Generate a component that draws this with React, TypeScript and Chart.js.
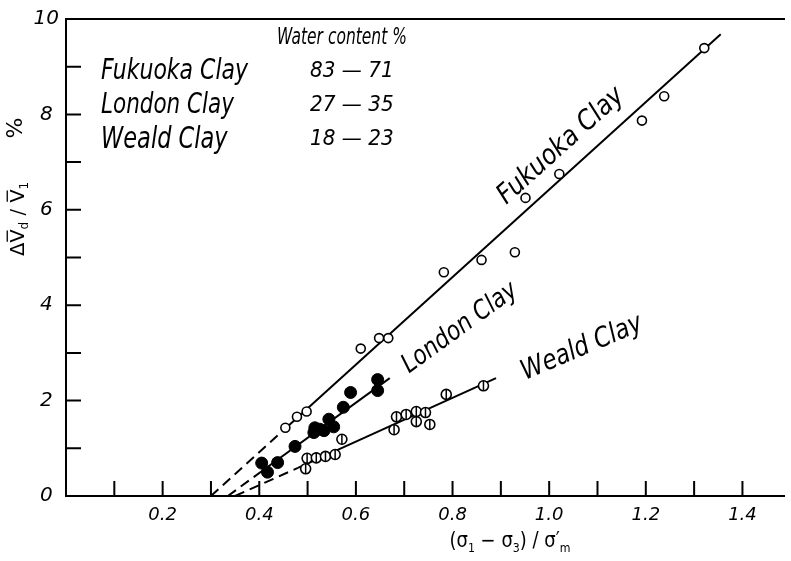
import React, { useEffect, useRef } from 'react';
import { Chart, registerables } from 'chart.js';

Chart.register(...registerables);

// Measured points: (sigma1 - sigma3)/sigma'm  vs  dVd/V1 %
const fukuokaX = [0.454, 0.478, 0.498, 0.610, 0.648, 0.667, 0.782, 0.860, 0.929, 0.951, 1.021, 1.192, 1.238, 1.321];
const fukuokaY = [1.43, 1.66, 1.77, 3.09, 3.31, 3.31, 4.69, 4.95, 5.11, 6.25, 6.75, 7.87, 8.38, 9.39];

const londonX = [0.405, 0.417, 0.438, 0.474, 0.513, 0.515, 0.525, 0.534, 0.544, 0.554, 0.574, 0.589, 0.645, 0.645];
const londonY = [0.69, 0.50, 0.70, 1.04, 1.33, 1.43, 1.40, 1.37, 1.61, 1.45, 1.86, 2.17, 2.44, 2.21];

const wealdX = [0.496, 0.499, 0.518, 0.537, 0.557, 0.571, 0.679, 0.684, 0.704, 0.725, 0.744, 0.725, 0.753, 0.787, 0.864];
const wealdY = [0.57, 0.79, 0.80, 0.83, 0.87, 1.19, 1.39, 1.66, 1.71, 1.77, 1.75, 1.56, 1.50, 2.13, 2.31];

// Fitted lines: dashed extrapolation + solid part
const fukuokaDashX = [0.30, 0.45];
const fukuokaDashY = [0, 1.38];
const fukuokaLineX = [0.45, 1.355];
const fukuokaLineY = [1.38, 9.68];

const londonDashX = [0.335, 0.405];
const londonDashY = [0, 0.52];
const londonLineX = [0.405, 0.67];
const londonLineY = [0.52, 2.47];

const wealdDashX = [0.35, 0.48];
const wealdDashY = [0, 0.59];
const wealdLineX = [0.48, 0.89];
const wealdLineY = [0.59, 2.47];

const xTickLabels = ['0.2', '0.4', '0.6', '0.8', '1.0', '1.2', '1.4'];
const yTickLabels = ['0', '2', '4', '6', '8', '10'];

const legendNames = ['Fukuoka Clay', 'London Clay', 'Weald Clay'];
const legendWater = ['83 — 71', '27 — 35', '18 — 23'];

const FONT = '"DejaVu Sans"';

const pts = (xs: number[], ys: number[]) => xs.map((x, i) => ({ x, y: ys[i] }));

function txt(
  ctx: CanvasRenderingContext2D,
  s: string,
  x: number,
  y: number,
  size: number,
  opts: { angle?: number; sy?: number; align?: CanvasTextAlign; style?: string } = {}
) {
  ctx.save();
  ctx.translate(x, y);
  if (opts.angle) ctx.rotate((opts.angle * Math.PI) / 180);
  ctx.scale(1, opts.sy || 1);
  ctx.font = `${opts.style ?? 'italic'} ${size}px ${FONT}`;
  ctx.textAlign = opts.align || 'left';
  ctx.textBaseline = 'middle';
  ctx.fillStyle = '#000';
  ctx.fillText(s, 0, 0);
  ctx.restore();
}

type Seg = { t: string; sub?: boolean; over?: boolean };

function segs(ctx: CanvasRenderingContext2D, list: Seg[], cx: number, cy: number, size: number, angle: number, sy = 1) {
  ctx.save();
  ctx.translate(cx, cy);
  ctx.rotate((angle * Math.PI) / 180);
  ctx.scale(1, sy);
  const mainFont = `${size}px ${FONT}`;
  const subFont = `${Math.round(size * 0.62)}px ${FONT}`;
  let total = 0;
  const widths = list.map((s) => {
    ctx.font = s.sub ? subFont : mainFont;
    const w = ctx.measureText(s.t).width;
    total += w;
    return w;
  });
  let x = -total / 2;
  ctx.textBaseline = 'alphabetic';
  ctx.textAlign = 'left';
  ctx.fillStyle = '#000';
  ctx.strokeStyle = '#000';
  list.forEach((s, i) => {
    ctx.font = s.sub ? subFont : mainFont;
    const yOff = s.sub ? size * 0.22 : 0;
    ctx.fillText(s.t, x, size * 0.36 + yOff);
    if (s.over) {
      ctx.beginPath();
      ctx.lineWidth = 1.3;
      ctx.moveTo(x + 1, -size * 0.5);
      ctx.lineTo(x + widths[i] - 1, -size * 0.5);
      ctx.stroke();
    }
    x += widths[i];
  });
  ctx.restore();
}

const decorPlugin = {
  id: 'decor',
  beforeDatasetsDraw(chart: any) {
    const { ctx, chartArea, scales } = chart;
    const x = scales.x;
    const y = scales.y;
    ctx.save();
    ctx.strokeStyle = '#000';
    ctx.lineWidth = 2;
    ctx.beginPath();
    x.ticks.forEach((t: any) => {
      if (t.value <= 0) return;
      const px = x.getPixelForValue(t.value);
      ctx.moveTo(px, chartArea.bottom);
      ctx.lineTo(px, chartArea.bottom - 15);
    });
    y.ticks.forEach((t: any) => {
      if (t.value <= 0 || t.value >= 10) return;
      const py = y.getPixelForValue(t.value);
      ctx.moveTo(chartArea.left, py);
      ctx.lineTo(chartArea.left + 15, py);
    });
    ctx.stroke();
    ctx.restore();
  },
  afterDraw(chart: any) {
    const { ctx } = chart;
    // legend block
    txt(ctx, 'Water content %', 277, 38, 15.5, { sy: 1.45 });
    const rowsY = [72, 106, 140];
    const nameSizes = [22, 21.5, 22.5];
    legendNames.forEach((n, i) => txt(ctx, n, 101, rowsY[i], nameSizes[i], { sy: 1.3 }));
    legendWater.forEach((n, i) => txt(ctx, n, 310, rowsY[i], 20, { sy: 1.05 }));

    // line labels
    txt(ctx, 'Fukuoka Clay', 561, 146, 24, { angle: -42, sy: 1.15, align: 'center' });
    txt(ctx, 'London Clay', 460, 328, 22, { angle: -36, sy: 1.2, align: 'center' });
    txt(ctx, 'Weald Clay', 582, 348, 23, { angle: -23, sy: 1.2, align: 'center' });

    // x title
    segs(
      ctx,
      [
        { t: '(σ' },
        { t: '1', sub: true },
        { t: ' − σ' },
        { t: '3', sub: true },
        { t: ') / σ′' },
        { t: 'm', sub: true },
      ],
      510,
      540,
      18,
      0,
      1.15
    );
    // y title
    segs(
      ctx,
      [
        { t: 'Δ' },
        { t: 'V', over: true },
        { t: 'd', sub: true },
        { t: ' / ' },
        { t: 'V', over: true },
        { t: '1', sub: true },
      ],
      17,
      219,
      19.5,
      -90
    );
    txt(ctx, '%', 16, 128, 22, { angle: -90, align: 'center', style: 'normal' });
  },
};

export default function App() {
  const ref = useRef<HTMLCanvasElement | null>(null);

  useEffect(() => {
    document.body.style.margin = '0';
    const canvas = ref.current;
    if (!canvas) return;

    const lineDs = (xs: number[], ys: number[], dashed: boolean) => ({
      data: pts(xs, ys),
      showLine: true,
      borderColor: '#000',
      borderWidth: 2,
      borderDash: dashed ? [10, 6] : [],
      pointRadius: 0,
      fill: false,
    });

    const chart = new Chart(canvas, {
      type: 'scatter',
      data: {
        datasets: [
          {
            label: 'Weald bar',
            data: pts(wealdX, wealdY),
            pointStyle: 'line',
            pointRotation: 90,
            pointRadius: 5,
            borderColor: '#000',
            borderWidth: 1.5,
          },
          {
            label: 'Weald Clay',
            data: pts(wealdX, wealdY),
            pointStyle: 'circle',
            pointRadius: 5,
            backgroundColor: '#fff',
            borderColor: '#000',
            borderWidth: 1.6,
          },
          {
            label: 'London Clay',
            data: pts(londonX, londonY),
            pointStyle: 'circle',
            pointRadius: 6,
            backgroundColor: '#000',
            borderColor: '#000',
            borderWidth: 1,
          },
          {
            label: 'Fukuoka Clay',
            data: pts(fukuokaX, fukuokaY),
            pointStyle: 'circle',
            pointRadius: 4.5,
            backgroundColor: '#fff',
            borderColor: '#000',
            borderWidth: 1.6,
          },
          lineDs(fukuokaDashX, fukuokaDashY, true),
          lineDs(fukuokaLineX, fukuokaLineY, false),
          lineDs(londonDashX, londonDashY, true),
          lineDs(londonLineX, londonLineY, false),
          lineDs(wealdDashX, wealdDashY, true),
          lineDs(wealdLineX, wealdLineY, false),
        ] as any,
      },
      options: {
        animation: false,
        responsive: false,
        devicePixelRatio: 1,
        layout: { padding: { top: 13, right: 1, left: 0, bottom: 0 } },
        plugins: {
          legend: { display: false },
          tooltip: { enabled: false },
        },
        scales: {
          x: {
            type: 'linear',
            position: 'bottom',
            min: 0,
            max: 1.486,
            afterFit: (s: any) => {
              s.height = 65;
            },
            grid: { display: false, drawTicks: false },
            border: { display: true, color: '#000', width: 2 },
            ticks: {
              stepSize: 0.1,
              includeBounds: false,
              autoSkip: false,
              maxRotation: 0,
              padding: 9,
              color: '#000',
              font: { family: 'DejaVu Sans', size: 18, style: 'italic' },
              callback: (v: any) => {
                const s = Number(v).toFixed(1);
                return xTickLabels.includes(s) ? s : '';
              },
            },
          },
          x2: {
            type: 'linear',
            position: 'top',
            min: 0,
            max: 1,
            afterFit: (s: any) => {
              s.height = 0;
            },
            grid: { display: false, drawTicks: false },
            border: { display: true, color: '#000', width: 2 },
            ticks: { display: false },
          },
          y: {
            type: 'linear',
            min: 0,
            max: 10,
            afterFit: (s: any) => {
              s.width = 66;
            },
            grid: { display: false, drawTicks: false },
            border: { display: true, color: '#000', width: 2 },
            ticks: {
              stepSize: 1,
              autoSkip: false,
              padding: 7,
              crossAlign: 'center',
              color: '#000',
              font: { family: 'DejaVu Sans', size: 20, style: 'italic' },
              callback: (v: any) => {
                const s = String(Math.round(Number(v)));
                return yTickLabels.includes(s) ? s : '';
              },
            },
          },
        },
      } as any,
      plugins: [decorPlugin],
    });

    return () => chart.destroy();
  }, []);

  return <canvas ref={ref} width={791} height={561} style={{ display: 'block' }} />;
}
